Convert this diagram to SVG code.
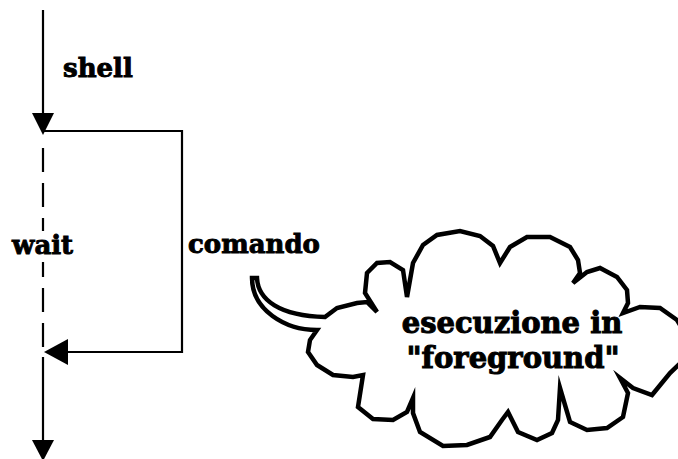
<svg xmlns="http://www.w3.org/2000/svg" width="678" height="459" viewBox="0 0 678 459">
<style>
.ln{stroke:#000;stroke-width:2.2;fill:none}
.ah{fill:#000;stroke:none}
.lbl{font-family:"DejaVu Serif","Liberation Serif",serif;font-weight:bold;font-size:26px;fill:#000;stroke:#000;stroke-width:0.9}
.cl{font-family:"DejaVu Serif","Liberation Serif",serif;font-weight:bold;font-size:29px;fill:#000;stroke:#000;stroke-width:1}
.cloud{fill:#fff;stroke:#000;stroke-width:4.5;stroke-linejoin:miter;stroke-miterlimit:6}
</style>
<rect width="678" height="459" fill="#fff"/>
<g id="connectors">
<line class="ln" x1="43" y1="10" x2="43" y2="116"/>
<polygon class="ah" points="32,113 54,113 43,135"/>
<polyline class="ln" points="43,131 182,131 182,352 66,352"/>
<polygon class="ah" points="44,352 68,339 68,365"/>
<line class="ln" x1="43" y1="148" x2="43" y2="348" stroke-dasharray="24 11"/>
<line class="ln" x1="43" y1="357" x2="43" y2="442"/>
<polygon class="ah" points="32,440 54,440 43,461"/>
</g>
<g id="shell"><text class="lbl" x="63" y="77">shell</text></g>
<g id="wait"><rect x="10" y="231" width="68" height="31" fill="#fff"/><text class="lbl" x="12" y="254">wait</text></g>
<g id="comando"><text class="lbl" x="188" y="253">comando</text></g>
<g id="cloud">
<path class="cloud" d="M257,278 C258,300 280,316 325,317 L337,308 L357,303 L367,302 L377,312 L365,293 L367,273 L377,263 L390,262 L403,270 L407,297 L413,263 L423,245 L437,235 L460,231 L480,236 L493,246 L500,263 L510,247 L527,237 L550,237 L570,247 L578,260 L580,273 L573,283 L587,272 L600,268 L617,277 L627,290 L628,303 L623,313 L640,307 L660,308 L677,320 L688,338 L688,356 L670,373 L652,395 L633,388 L620,378 L628,393 L623,417 L607,428 L587,430 L570,422 L560,388 L558,420 L552,433 L537,440 L518,432 L508,412 L502,420 L490,437 L467,445 L443,446 L420,432 L413,413 L413,398 L407,412 L393,420 L373,419 L358,407 L363,375 L353,377 L333,375 L317,365 L308,352 L310,340 L317,330 C285,330 252,310 252,278 Z"/>
<text class="cl" x="512" y="333" text-anchor="middle">esecuzione in</text>
<text class="cl" x="513" y="368" text-anchor="middle">"foreground"</text>
</g>
</svg>
